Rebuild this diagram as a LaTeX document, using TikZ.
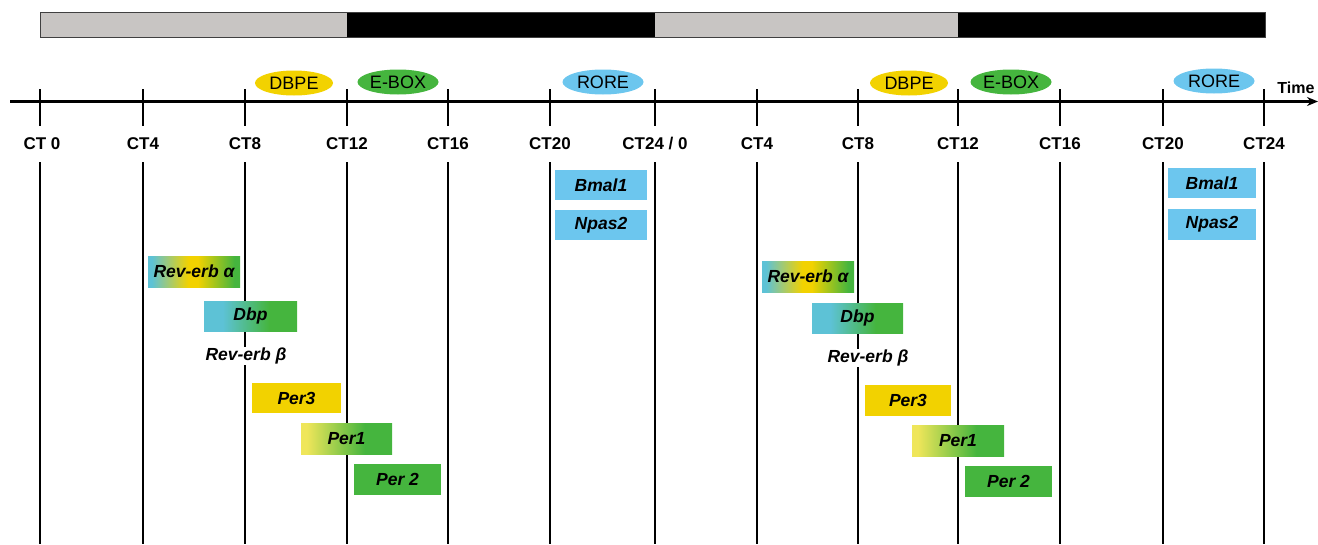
\documentclass[tikz,border=0pt]{standalone}
\usepackage{fontspec}
\setmainfont{Liberation Sans}
\usetikzlibrary{shapes.geometric,arrows.meta}
\definecolor{cgray}{HTML}{C8C5C3}
\definecolor{cyellow}{HTML}{F2D200}
\definecolor{cyellowl}{HTML}{EFE65A}
\definecolor{cgreen}{HTML}{45B53E}
\definecolor{cblue}{HTML}{6CC6EE}
\definecolor{cteal}{HTML}{5DC2D6}
\pgfdeclarehorizontalshading{revshade}{100bp}{color(0bp)=(cteal); color(27bp)=(cteal); color(47bp)=(cyellow); color(52bp)=(cyellow); color(72bp)=(cgreen); color(100bp)=(cgreen)}
\pgfdeclarehorizontalshading{dbpshade}{100bp}{color(0bp)=(cteal); color(35bp)=(cteal); color(60bp)=(cgreen); color(100bp)=(cgreen)}
\pgfdeclarehorizontalshading{pershade}{100bp}{color(0bp)=(cyellowl); color(28bp)=(cyellowl); color(60bp)=(cgreen); color(100bp)=(cgreen)}
\tikzset{
  ctlabel/.style={font=\fontsize{17}{19}\selectfont\bfseries, inner sep=0pt},
  tickline/.style={line width=1.5pt, black},
  elem/.style={ellipse, inner sep=0pt, minimum width=78, minimum height=25, font=\fontsize{18}{20}\selectfont},
  gene/.style={rectangle, inner sep=0pt, minimum height=30, font=\fontsize{17.5}{19}\selectfont\bfseries\itshape},
  plaingene/.style={fill=white, inner sep=1pt, font=\fontsize{17.5}{19}\selectfont\bfseries\itshape},
}
\begin{document}
\begin{tikzpicture}[x=1pt,y=-1pt]
\useasboundingbox (0,0) rectangle (1318,544);
% light/dark bar
\fill[cgray] (40,12) rectangle (347,37);
\fill[black] (347,12) rectangle (655,37);
\fill[cgray] (655,12) rectangle (958,37);
\fill[black] (958,12) rectangle (1265,37);
\draw[line width=1pt, black!75] (40,12) rectangle (1265,37);
% time axis
\coordinate (axs) at (10,101.5);
\coordinate (axe) at (1318,101.5);
\draw[line width=3.2pt, -{Stealth[length=11pt,width=9pt]}] (axs) -- (axe);
\node[font=\fontsize{16}{18}\selectfont\bfseries, inner sep=0pt] (time) at (1296,88) {Time};
% ticks and vertical lines
\foreach \x in {40,143,245,347,448,550,655,757,858,958,1060,1163,1264} {
  \draw[tickline] (\x,89) -- (\x,126);
  \draw[tickline] (\x,162) -- (\x,544);
}
% CT labels
\node[ctlabel] (l0) at (42,144) {CT 0};
\node[ctlabel] (l1) at (143,144) {CT4};
\node[ctlabel] (l2) at (245,144) {CT8};
\node[ctlabel] (l3) at (347,144) {CT12};
\node[ctlabel] (l4) at (448,144) {CT16};
\node[ctlabel] (l5) at (550,144) {CT20};
\node[ctlabel] (l6) at (655,144) {CT24 / 0};
\node[ctlabel] (l7) at (757,144) {CT4};
\node[ctlabel] (l8) at (858,144) {CT8};
\node[ctlabel] (l9) at (958,144) {CT12};
\node[ctlabel] (l10) at (1060,144) {CT16};
\node[ctlabel] (l11) at (1163,144) {CT20};
\node[ctlabel] (l12) at (1264,144) {CT24};
% elements
\node[elem, fill=cyellow] (dbpe1) at (294,83) {DBPE};
\node[elem, fill=cgreen, minimum width=81] (ebox1) at (398,82) {E-BOX};
\node[elem, fill=cblue, minimum width=81] (rore1) at (603,82) {RORE};
\node[elem, fill=cyellow] (dbpe2) at (909,83) {DBPE};
\node[elem, fill=cgreen, minimum width=81] (ebox2) at (1011,82) {E-BOX};
\node[elem, fill=cblue, minimum width=81] (rore2) at (1214,81) {RORE};
% genes, first day
\node[gene, fill=cblue, minimum width=92] (bmal1a) at (601,185) {Bmal1};
\node[gene, fill=cblue, minimum width=92] (npas2a) at (601,225) {Npas2};
\node[gene, shading=revshade, minimum width=92, minimum height=31] (revaa) at (194,271.5) {Rev-erb α};
\node[gene, shading=dbpshade, minimum width=93] (dbpa) at (250.5,316) {Dbp};
\node[plaingene] (revba) at (246,356) {Rev-erb β};
\node[gene, fill=cyellow, minimum width=89] (per3a) at (296.5,398) {Per3};
\node[gene, shading=pershade, minimum width=91, minimum height=31] (per1a) at (346.5,438.5) {Per1};
\node[gene, fill=cgreen, minimum width=87, minimum height=31] (per2a) at (397.5,479.5) {Per 2};
% genes, second day
\node[gene, fill=cblue, minimum width=88] (bmal1b) at (1212,183) {Bmal1};
\node[gene, fill=cblue, minimum width=88, minimum height=31] (npas2b) at (1212,224.5) {Npas2};
\node[gene, shading=revshade, minimum width=92, minimum height=31] (revab) at (808,276.5) {Rev-erb α};
\node[gene, shading=dbpshade, minimum width=91] (dbpb) at (857.5,318) {Dbp};
\node[plaingene] (revbb) at (868,358) {Rev-erb β};
\node[gene, fill=cyellow, minimum width=86, minimum height=31] (per3b) at (908,400.5) {Per3};
\node[gene, shading=pershade, minimum width=92, minimum height=31] (per1b) at (958,440.5) {Per1};
\node[gene, fill=cgreen, minimum width=87, minimum height=31] (per2b) at (1008.5,481.5) {Per 2};
\end{tikzpicture}
\end{document}
